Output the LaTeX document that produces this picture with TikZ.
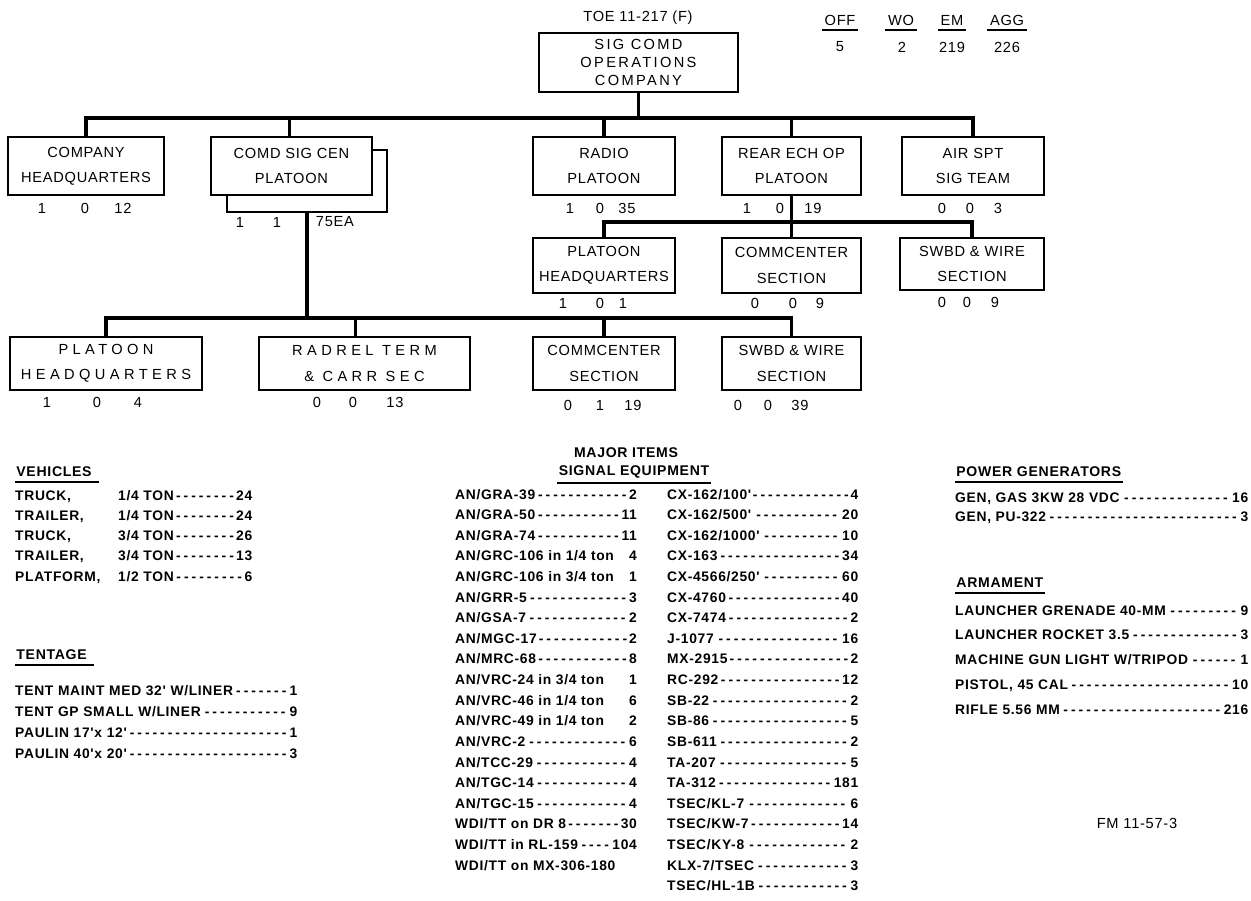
\documentclass[tikz,border=0pt]{standalone}
\usepackage{fontspec}
\setmainfont{Liberation Sans}
\newfontfamily\boxfont{Liberation Sans}[LetterSpace=5]
\newfontfamily\widefont{Liberation Sans}[LetterSpace=30]
\newfontfamily\topfont{Liberation Sans}[LetterSpace=16]
\newfontfamily\listfont{Liberation Sans}[LetterSpace=5]
\usetikzlibrary{positioning,calc}

\newcommand\dashfill{\cleaders\hbox to 0.55em{\hss-\hss}\hfill}

\begin{document}
\begin{tikzpicture}[
    x=0.03cm, y=-0.03cm,
    every node/.style={inner sep=0pt},
    orgbox/.style={draw, line width=1.3pt, align=center, font=\boxfont\fontsize{12.5}{21.5}\selectfont},
    widebox/.style={orgbox, font=\widefont\fontsize{12.5}{21.5}\selectfont},
    num/.style={font=\boxfont\fontsize{12.5}{12.5}\selectfont},
    heading/.style={anchor=west, inner xsep=1pt, inner ysep=4pt, font=\listfont\bfseries\fontsize{12}{12}\selectfont},
    listbox/.style={anchor=base west, align=left, font=\listfont\bfseries\fontsize{11.8}{#1}\selectfont},
    conn/.style={line width=2.6pt},
    bracket/.style={line width=1.3pt},
    uline/.style={line width=1.3pt},
]
\useasboundingbox (0,0) rectangle (1251,901);

% ---- Top: company and strength ----
\node[num] (toe) at (638,18) {TOE 11-217 (F)};
\node[orgbox, font=\topfont\fontsize{12.5}{15.5}\selectfont, minimum width=5.97cm, minimum height=1.77cm] (sigcomd) at (638.5,62.5) {SIG COMD\\OPERATIONS\\COMPANY};

\node[num, inner ysep=4pt] (off) at (840,20) {OFF};
\node[num, inner ysep=4pt] (wo) at (901,20) {WO};
\node[num, inner ysep=4pt] (em) at (952,20) {EM};
\node[num, inner ysep=4pt] (agg) at (1007,20) {AGG};
\draw[uline] ([xshift=-2pt]off.south west) -- ([xshift=2pt]off.south east);
\draw[uline] ([xshift=-2pt]wo.south west) -- ([xshift=2pt]wo.south east);
\draw[uline] ([xshift=-2pt]em.south west) -- ([xshift=2pt]em.south east);
\draw[uline] ([xshift=-2pt]agg.south west) -- ([xshift=2pt]agg.south east);
\node[num] (off-n) at (840,47) {5};
\node[num] (wo-n) at (902,47) {2};
\node[num] (em-n) at (952,47) {219};
\node[num] (agg-n) at (1007,47) {226};

% ---- First level ----
\node[orgbox, minimum width=4.68cm, minimum height=1.74cm] (cohq) at (86,166) {COMPANY\\HEADQUARTERS};
\node[orgbox, minimum width=4.83cm, minimum height=1.74cm] (comdsig) at (291.5,166) {COMD SIG CEN\\PLATOON};
\node[orgbox, minimum width=4.26cm, minimum height=1.74cm] (radio) at (604,166) {RADIO\\PLATOON};
\node[orgbox, minimum width=4.17cm, minimum height=1.74cm] (rearech) at (791.5,166) {REAR ECH OP\\PLATOON};
\node[orgbox, minimum width=4.26cm, minimum height=1.74cm] (airspt) at (973,166) {AIR SPT\\SIG TEAM};

\coordinate (bus1) at (638,118);
\draw[conn] (sigcomd.south) -- (sigcomd.south |- bus1);
\draw[conn] (cohq.north) -- (cohq.north |- bus1) -- (airspt.north |- bus1) -- (airspt.north);
\draw[conn] ([xshift=-0.06cm]comdsig.north) -- ([xshift=-0.06cm]comdsig.north |- bus1);
\draw[conn] (radio.north) -- (radio.north |- bus1);
\draw[conn] (rearech.north) -- (rearech.north |- bus1);

\node[num] (cohq1) at (42,208) {1}; \node[num] (cohq2) at (85,208) {0}; \node[num] (cohq3) at (123,208) {12};
\node[num] (comdsig1) at (240,222) {1}; \node[num] (comdsig2) at (277,222) {1}; \node[num] (comdsig3) at (335,222) {75EA};
\node[num] (radio1) at (570,208) {1}; \node[num] (radio2) at (600,208) {0}; \node[num] (radio3) at (627,208) {35};
\node[num] (rearech1) at (747,208) {1}; \node[num] (rearech2) at (780,208) {0}; \node[num] (rearech3) at (813,208) {19};
\node[num] (airspt1) at (942,208) {0}; \node[num] (airspt2) at (970,208) {0}; \node[num] (airspt3) at (998,208) {3};

% bracket round the platoon
\coordinate (brk) at (307,212);
\draw[bracket] ([xshift=0.51cm]comdsig.south west) |- (brk) -- (387,212) |- ([yshift=0.48cm]comdsig.east);

% ---- Second level (rear echelon) ----
\node[orgbox, minimum width=4.26cm, minimum height=1.65cm] (plthq) at (604,265.5) {PLATOON\\HEADQUARTERS};
\node[orgbox, minimum width=4.17cm, minimum height=1.65cm] (commcen) at (791.5,265.5) {COMMCENTER\\SECTION};
\node[orgbox, minimum width=4.32cm, minimum height=1.56cm] (swbd) at (972,264) {SWBD \& WIRE\\SECTION};

\coordinate (bus2) at (793,222);
\draw[conn] (rearech.south) -- (rearech.south |- bus2);
\draw[conn] (plthq.north) -- (plthq.north |- bus2) -- (swbd.north |- bus2) -- (swbd.north);
\draw[conn] (commcen.north) -- (commcen.north |- bus2);

\node[num] (plthq1) at (563,303) {1}; \node[num] (plthq2) at (600,303) {0}; \node[num] (plthq3) at (623,303) {1};
\node[num] (commcen1) at (755,303) {0}; \node[num] (commcen2) at (793,303) {0}; \node[num] (commcen3) at (820,303) {9};
\node[num] (swbd1) at (942,302) {0}; \node[num] (swbd2) at (967,302) {0}; \node[num] (swbd3) at (995,302) {9};

% ---- Third level (comd sig cen) ----
\node[widebox, minimum width=5.76cm, minimum height=1.59cm] (hq3) at (106,363.5) {PLATOON\\HEADQUARTERS};
\node[widebox, minimum width=6.33cm, minimum height=1.59cm] (radrel) at (364.5,363.5) {RADREL TERM\\\& CARR SEC};
\node[orgbox, minimum width=4.26cm, minimum height=1.59cm] (commcen3) at (604,363.5) {COMMCENTER\\SECTION};
\node[orgbox, minimum width=4.17cm, minimum height=1.59cm] (swbd3) at (791.5,363.5) {SWBD \& WIRE\\SECTION};

\coordinate (bus3) at (307,318);
\draw[conn] (brk) -- (bus3);
\draw[conn] (hq3.north) -- (hq3.north |- bus3) -- (swbd3.north |- bus3) -- (swbd3.north);
\draw[conn] ([xshift=-0.28cm]radrel.north) -- ([xshift=-0.28cm]radrel.north |- bus3);
\draw[conn] (commcen3.north) -- (commcen3.north |- bus3);

\node[num] (hq31) at (47,402) {1}; \node[num] (hq32) at (97,402) {0}; \node[num] (hq33) at (138,402) {4};
\node[num] (radrel1) at (317,402) {0}; \node[num] (radrel2) at (353,402) {0}; \node[num] (radrel3) at (395,402) {13};
\node[num] (commcen31) at (568,405) {0}; \node[num] (commcen32) at (600,405) {1}; \node[num] (commcen33) at (633,405) {19};
\node[num] (swbd31) at (738,405) {0}; \node[num] (swbd32) at (768,405) {0}; \node[num] (swbd33) at (800,405) {39};

% ---- Lists ----
\node[heading] (vehhd) at (15,472) {VEHICLES};
\draw[uline] (vehhd.south west) -- ([xshift=5pt]vehhd.south east);
\node[listbox=17.3pt, text width=7.11cm] (veh) at (15,500) {%
    \makebox[3.09cm][l]{TRUCK,}1/4 TON\dashfill 24\\
    \makebox[3.09cm][l]{TRAILER,}1/4 TON\dashfill 24\\
    \makebox[3.09cm][l]{TRUCK,}3/4 TON\dashfill 26\\
    \makebox[3.09cm][l]{TRAILER,}3/4 TON\dashfill 13\\
    \makebox[3.09cm][l]{PLATFORM,}1/2 TON\dashfill 6};

\node[heading] (tenthd) at (15,655) {TENTAGE};
\draw[uline] (tenthd.south west) -- ([xshift=5pt]tenthd.south east);
\node[listbox=18.2pt, text width=8.46cm] (tent) at (15,695) {%
    TENT MAINT MED 32' W/LINER\dashfill 1\\
    TENT GP SMALL W/LINER\dashfill 9\\
    PAULIN 17'x 12'\dashfill 1\\
    PAULIN 40'x 20'\dashfill 3};

\node[heading, anchor=center] (majhd) at (626,453) {MAJOR ITEMS};
\node[heading, anchor=center] (sighd) at (634,472) {SIGNAL EQUIPMENT};
\draw[uline] (sighd.south west) -- (sighd.south east);
\node[listbox=17.6pt, text width=5.45cm] (sigleft) at (455,499) {%
    AN/GRA-39\dashfill 2\\
    AN/GRA-50\dashfill 11\\
    AN/GRA-74\dashfill 11\\
    AN/GRC-106 in 1/4 ton\hfill 4\\
    AN/GRC-106 in 3/4 ton\hfill 1\\
    AN/GRR-5\dashfill 3\\
    AN/GSA-7\dashfill 2\\
    AN/MGC-17\dashfill 2\\
    AN/MRC-68\dashfill 8\\
    AN/VRC-24 in 3/4 ton\hfill 1\\
    AN/VRC-46 in 1/4 ton\hfill 6\\
    AN/VRC-49 in 1/4 ton\hfill 2\\
    AN/VRC-2\dashfill 6\\
    AN/TCC-29\dashfill 4\\
    AN/TGC-14\dashfill 4\\
    AN/TGC-15\dashfill 4\\
    WDI/TT on DR 8\dashfill 30\\
    WDI/TT in RL-159\dashfill 104\\
    WDI/TT on MX-306-180};
\node[listbox=17.6pt, text width=5.73cm] (sigright) at (667,499) {%
    CX-162/100'\dashfill 4\\
    CX-162/500'\dashfill 20\\
    CX-162/1000'\dashfill 10\\
    CX-163\dashfill 34\\
    CX-4566/250'\dashfill 60\\
    CX-4760\dashfill 40\\
    CX-7474\dashfill 2\\
    J-1077\dashfill 16\\
    MX-2915\dashfill 2\\
    RC-292\dashfill 12\\
    SB-22\dashfill 2\\
    SB-86\dashfill 5\\
    SB-611\dashfill 2\\
    TA-207\dashfill 5\\
    TA-312\dashfill 181\\
    TSEC/KL-7\dashfill 6\\
    TSEC/KW-7\dashfill 14\\
    TSEC/KY-8\dashfill 2\\
    KLX-7/TSEC\dashfill 3\\
    TSEC/HL-1B\dashfill 3};

\node[heading] (powhd) at (955,472) {POWER GENERATORS};
\draw[uline] (powhd.south west) -- (powhd.south east);
\node[listbox=17pt, text width=8.79cm] (pow) at (955,502) {%
    GEN, GAS 3KW 28 VDC\dashfill 16\\
    GEN, PU-322\dashfill 3};

\node[heading] (armhd) at (955,583) {ARMAMENT};
\draw[uline] (armhd.south west) -- (armhd.south east);
\node[listbox=21.3pt, text width=8.79cm] (arm) at (955,615) {%
    LAUNCHER GRENADE 40-MM\dashfill 9\\
    LAUNCHER ROCKET 3.5\dashfill 3\\
    MACHINE GUN LIGHT W/TRIPOD\dashfill 1\\
    PISTOL, 45 CAL\dashfill 10\\
    RIFLE 5.56 MM\dashfill 216};

\node[num] (fm) at (1137,823) {FM 11-57-3};

\end{tikzpicture}
\end{document}
